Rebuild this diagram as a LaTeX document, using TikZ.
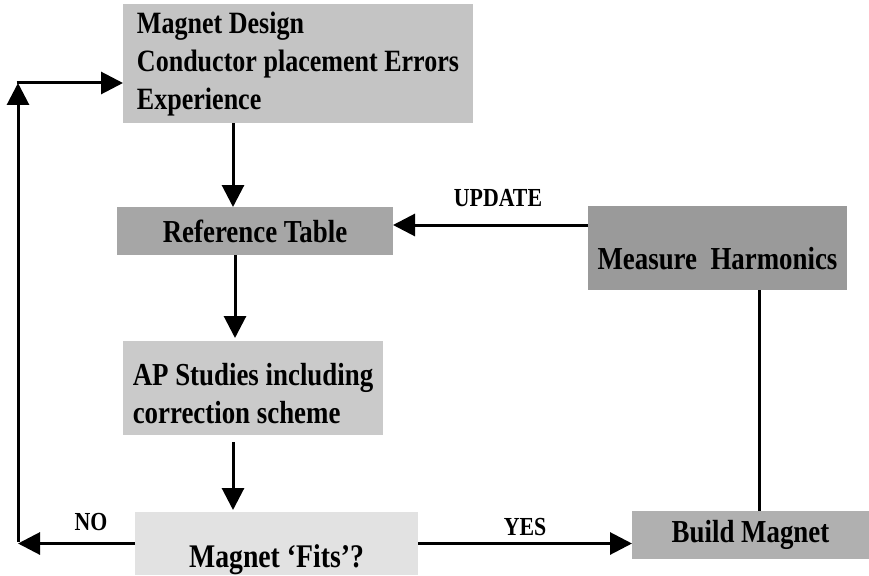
\documentclass[tikz,border=0pt]{standalone}
\usepackage{fontspec}
\setmainfont{Liberation Serif}[FakeStretch=0.84]
\usetikzlibrary{arrows.meta,calc}
\definecolor{cA}{HTML}{C4C4C4}
\definecolor{cB}{HTML}{A6A6A6}
\definecolor{cC}{HTML}{CACACA}
\definecolor{cD}{HTML}{E2E2E2}
\definecolor{cE}{HTML}{9A9A9A}
\definecolor{cF}{HTML}{B0B0B0}
\begin{document}
\begin{tikzpicture}[x=1pt,y=-1pt,
  box/.style={rectangle,inner sep=0pt,outer sep=0pt,font=\bfseries\fontsize{32}{38}\selectfont},
  lbl/.style={font=\bfseries\fontsize{26}{30}\selectfont,inner sep=0pt},
  conn/.style={line width=3pt},
  arr/.style={line width=3pt,-{Triangle[length=22pt,width=22pt]}}]
\useasboundingbox (0,0) rectangle (869,575);
% boxes
\node[box,fill=cA,minimum width=350pt,minimum height=119pt]
  (d1) at (298,63.5) {\fontsize{31}{38}\selectfont\raisebox{29.5pt}[0pt][0pt]{\begin{tabular}[t]{@{}l@{}}Magnet Design\\Conductor placement Errors\\Experience\end{tabular}}};
\node[box,fill=cB,minimum width=276pt,minimum height=48pt] (ref) at (255,231) {Reference Table};
\node[box,fill=cC,minimum width=260pt,minimum height=94pt]
  (ap) at (253,388) {\raisebox{3pt}[0pt][0pt]{\begin{tabular}[t]{@{}l@{}}AP Studies including\\correction scheme\end{tabular}}};
\node[box,fill=cD,minimum width=283pt,minimum height=63pt] (fits) at (276.5,543.5) {\fontsize{33}{38}\selectfont\raisebox{-24pt}[0pt][0pt]{Magnet `Fits'?}};
\node[box,fill=cE,minimum width=259pt,minimum height=84pt] (mh) at (717.5,248) {\raisebox{-21pt}[0pt][0pt]{Measure\ \ Harmonics}};
\node[box,fill=cF,minimum width=237pt,minimum height=48pt] (bm) at (750.5,535) {Build Magnet};
% helper coordinates
\coordinate (ax) at (233,0);
\coordinate (bx) at (235,0);
\coordinate (upd) at (0,225);
\coordinate (vx) at (759,0);
\coordinate (lc) at (18,543.5);
\coordinate (tc) at (18,83);
% connectors
\draw[arr] (d1.south -| ax) -- (ref.north -| ax);
\draw[arr] (ref.south -| bx) -- ([yshift=3pt]ap.north -| bx);
\draw[arr,shorten <=7pt] (ap.south -| ax) -- ([yshift=2pt]fits.north -| ax);
\draw[arr] (mh.west |- upd) -- (ref.east |- upd);
\draw[conn] (mh.south -| vx) -- (bm.north -| vx);
\draw[arr] (fits.east) -- (fits.east -| bm.west);
\draw[arr] (fits.west) -- (lc);
\draw[arr] ([yshift=1.5pt]lc) -- (tc);
\draw[arr] ([xshift=-1.5pt]tc) -- (tc -| d1.west);
% labels
\node[lbl] (lupd) at (498,198) {UPDATE};
\node[lbl] (lyes) at (525,527) {YES};
\node[lbl] (lno) at (91,522) {NO};
\end{tikzpicture}
\end{document}
